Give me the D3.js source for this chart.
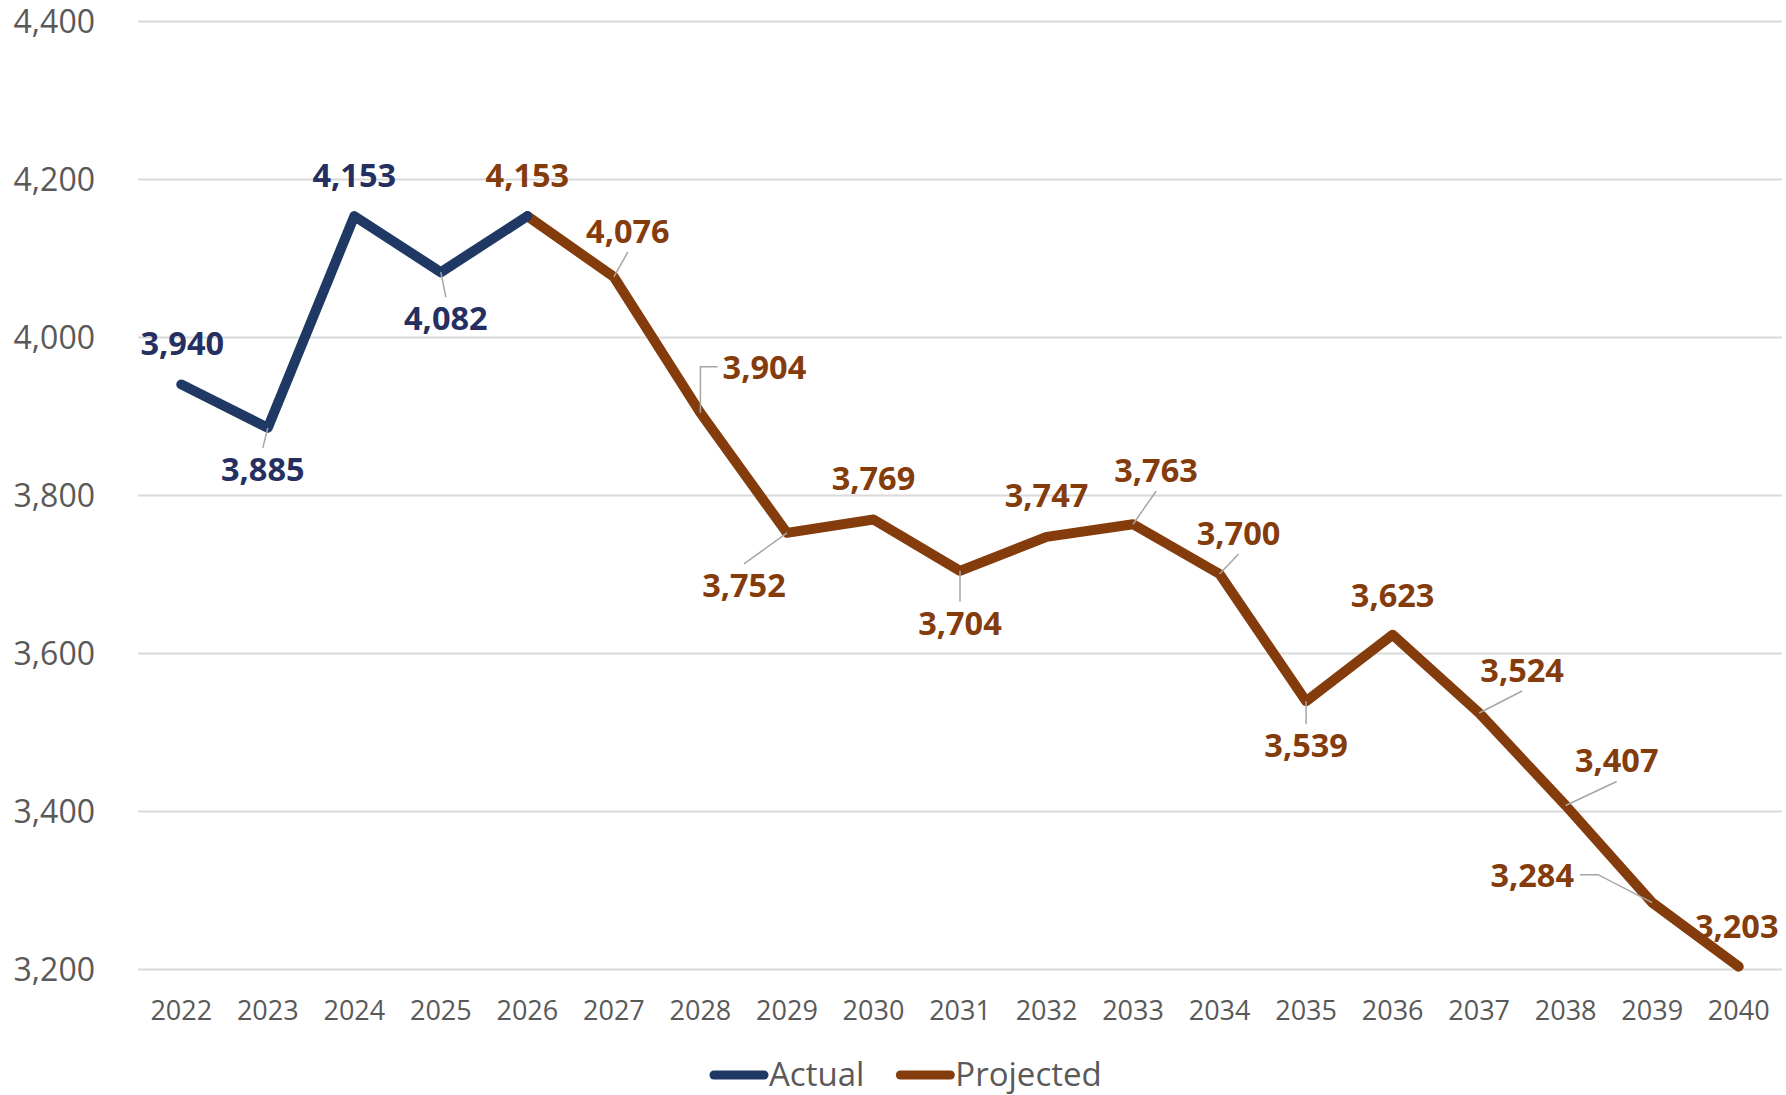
<!DOCTYPE html>
<html>
<head>
<meta charset="utf-8">
<script src="https://cdn.jsdelivr.net/npm/d3@7"></script>
<style>
  html, body { margin: 0; padding: 0; background: #ffffff; }
  svg { display: block; }
</style>
</head>
<body>
<svg id="chart" width="1786" height="1095"></svg>
<script>
// ---------------- data ----------------
const years = [2022, 2023, 2024, 2025, 2026, 2027, 2028, 2029, 2030, 2031,
               2032, 2033, 2034, 2035, 2036, 2037, 2038, 2039, 2040];
const actualYears = [2022, 2023, 2024, 2025, 2026];
const actualValues = [3940, 3885, 4153, 4082, 4153];
const projectedYears = [2026, 2027, 2028, 2029, 2030, 2031, 2032, 2033,
                        2034, 2035, 2036, 2037, 2038, 2039, 2040];
const projectedValues = [4153, 4076, 3904, 3752, 3769, 3704, 3747, 3763,
                         3700, 3539, 3623, 3524, 3407, 3284, 3203];
const yTicks = [3200, 3400, 3600, 3800, 4000, 4200, 4400];
const seriesNames = ["Actual", "Projected"];

// label placement (style only): offset of label centre from its point, leader side
const actualLabelLayout = [
  { dx: 1, dy: -41, leader: null },
  { dx: -5, dy: 41, leader: "t" },
  { dx: 0, dy: -41, leader: null },
  { dx: 5, dy: 46, leader: "t" },
  null
];
const projectedLabelLayout = [
  { dx: 0, dy: -41, leader: null },
  { dx: 14, dy: -46, leader: "b" },
  { dx: 64, dy: -46, leader: "l" },
  { dx: -43, dy: 52, leader: "t" },
  { dx: 0, dy: -41, leader: null },
  { dx: 0, dy: 52, leader: "t" },
  { dx: 0, dy: -42, leader: null },
  { dx: 23, dy: -54, leader: "b" },
  { dx: 19, dy: -41, leader: "b" },
  { dx: 0, dy: 44, leader: "t" },
  { dx: 0, dy: -40, leader: null },
  { dx: 43, dy: -43, leader: "b" },
  { dx: 51, dy: -45, leader: "b" },
  { dx: -120, dy: -28, leader: "r" },
  { dx: -2, dy: -41, leader: null }
];

// ---------------- styles ----------------
const colActual = "#203864";
const colActualLabel = "#253061";
const colProj = "#843C0C";
const colProjLabel = "#843C0C";
const colAxisText = "#595959";
const colGrid = "#D9D9D9";
const colLeader = "#A6A6A6";
const FONT = "'Open Sans', 'Noto Sans', sans-serif";

const svg = d3.select("#chart");
const margin = { left: 138, right: 4, top: 21, bottom: 126 };
const W = 1786, H = 1095;

const x = d3.scaleBand()
  .domain(years)
  .range([margin.left, W - margin.right])
  .paddingInner(0).paddingOuter(0);
const xc = d => x(d) + x.bandwidth() / 2;

const y = d3.scaleLinear()
  .domain([3200, 4400])
  .range([H - margin.bottom, margin.top]);

// gridlines
const yAxis = d3.axisLeft(y)
  .tickValues(yTicks)
  .tickSize(-(W - margin.right - margin.left))
  .tickPadding(43)
  .tickFormat(d3.format(","));
const gy = svg.append("g")
  .attr("transform", `translate(${margin.left},0)`)
  .call(yAxis);
gy.select(".domain").remove();
gy.selectAll(".tick line").attr("stroke", colGrid).attr("stroke-width", 2);
gy.selectAll(".tick text")
  .attr("fill", colAxisText)
  .style("font-family", FONT)
  .style("font-size", "32px")
  .attr("dy", "0.36em");

// x axis labels
const xAxis = d3.axisBottom(x).tickSize(0).tickPadding(32);
const gx = svg.append("g")
  .attr("transform", `translate(0,${H - margin.bottom})`)
  .call(xAxis);
gx.select(".domain").remove();
gx.selectAll(".tick text")
  .attr("fill", colAxisText)
  .style("font-family", FONT)
  .style("font-size", "27px");

// lines
const line = d3.line()
  .x(d => xc(d[0]))
  .y(d => y(d[1]));

const actualPts = actualYears.map((yr, i) => [yr, actualValues[i]]);
const projPts = projectedYears.map((yr, i) => [yr, projectedValues[i]]);

svg.append("path")
  .datum(projPts)
  .attr("d", line)
  .attr("fill", "none")
  .attr("stroke", colProj)
  .attr("stroke-width", 10)
  .attr("stroke-linejoin", "round")
  .attr("stroke-linecap", "round");

svg.append("path")
  .datum(actualPts)
  .attr("d", line)
  .attr("fill", "none")
  .attr("stroke", colActual)
  .attr("stroke-width", 10)
  .attr("stroke-linejoin", "round")
  .attr("stroke-linecap", "round");

// data labels with leader lines
const leaderG = svg.append("g");
const labelG = svg.append("g");

function addLabels(pts, layout, color) {
  pts.forEach((p, i) => {
    const L = layout[i];
    if (!L) return;
    const px = xc(p[0]), py = y(p[1]);
    const cx = px + L.dx, cy = py + L.dy;
    const t = labelG.append("text")
      .attr("x", cx)
      .attr("y", cy + 12)
      .attr("text-anchor", "middle")
      .attr("fill", color)
      .style("font-family", FONT)
      .style("font-weight", "700")
      .style("font-size", "32.5px")
      .text(d3.format(",")(p[1]));
    if (L.leader) {
      const w = t.node().getComputedTextLength();
      const x0 = cx - w / 2, x1 = cx + w / 2;
      const y0 = cy - 13, y1 = cy + 13;
      const pad = 8;
      let pts2;
      if (L.leader === "t") {
        pts2 = [[px, py], [cx, y0 - pad]];
      } else if (L.leader === "b") {
        pts2 = [[px, py], [cx, y1 + pad]];
      } else if (L.leader === "l") {
        pts2 = [[px, py], [px, cy], [x0 - 5, cy]];
      } else {
        pts2 = [[px, py], [x1 + 24, cy], [x1 + 6, cy]];
      }
      leaderG.append("path")
        .attr("d", d3.line()(pts2))
        .attr("fill", "none")
        .attr("stroke", colLeader)
        .attr("stroke-width", 1.5);
    }
  });
}
addLabels(actualPts, actualLabelLayout, colActualLabel);
addLabels(projPts, projectedLabelLayout, colProjLabel);

// legend
const legend = svg.append("g").attr("transform", "translate(0,1075)");
const legendColors = [colActual, colProj];
let lx = 714;
seriesNames.forEach((name, i) => {
  legend.append("line")
    .attr("x1", lx).attr("x2", lx + 50)
    .attr("y1", 0).attr("y2", 0)
    .attr("stroke", legendColors[i])
    .attr("stroke-width", 9)
    .attr("stroke-linecap", "round");
  const t = legend.append("text")
    .attr("x", lx + 55)
    .attr("y", 11)
    .attr("fill", colAxisText)
    .style("font-family", FONT)
    .style("font-size", "33px")
    .text(name);
  lx = lx + 55 + t.node().getComputedTextLength() + 36;
});
</script>
</body>
</html>
